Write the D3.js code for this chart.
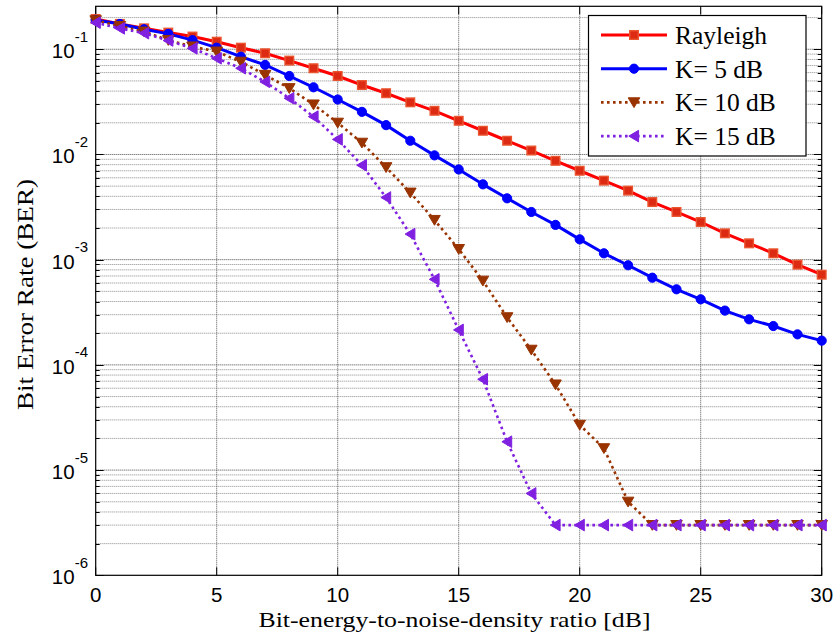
<!DOCTYPE html>
<html>
<head>
<meta charset="utf-8">
<script src="https://cdn.jsdelivr.net/npm/d3@7"></script>
<style>
  html, body { margin: 0; padding: 0; background: #fff; }
  svg { display: block; }
</style>
</head>
<body>
<svg id="chart" width="833" height="643"></svg>
<script>
// Eb/N0 in dB
const snrDb = d3.range(0, 31);

// Simulated bit error rates per channel model
const berRayleigh = [0.194, 0.174, 0.158, 0.144, 0.132, 0.118, 0.1035, 0.0916, 0.078, 0.066,
  0.0557, 0.0457, 0.0382, 0.0313, 0.026, 0.0209, 0.0168, 0.0135, 0.0109, 0.0087,
  0.0070, 0.00564, 0.00453, 0.00353, 0.00284, 0.00228, 0.00178, 0.00143, 0.00115, 0.000896, 0.00072];
const berK5 = [0.19, 0.174, 0.155, 0.14, 0.122, 0.1035, 0.085, 0.071, 0.0557, 0.0435,
  0.0333, 0.0254, 0.019, 0.0135, 0.0098, 0.0072, 0.0052, 0.00383, 0.00284, 0.00214,
  0.00156, 0.00115, 0.000885, 0.000674, 0.000523, 0.00042, 0.000328, 0.000271, 0.000234, 0.000195, 0.00017];
const berK10 = [0.188, 0.166, 0.147, 0.122, 0.106, 0.095, 0.076, 0.057, 0.0426, 0.0298,
  0.020, 0.0129, 0.00755, 0.00433, 0.00238, 0.00126, 0.00063, 0.000283, 0.000139, 0.000065,
  0.0000269, 0.0000161, 0.000005, 0.000003, 0.000003, 0.000003, 0.000003, 0.000003, 0.000003, 0.000003, 0.000003];
const berK15 = [0.179, 0.158, 0.142, 0.121, 0.102, 0.082, 0.066, 0.049, 0.0342, 0.0229,
  0.0139, 0.0079, 0.0039, 0.00175, 0.00065, 0.000215, 0.000073, 0.0000186, 0.000006, 0.000003,
  0.000003, 0.000003, 0.000003, 0.000003, 0.000003, 0.000003, 0.000003, 0.000003, 0.000003, 0.000003, 0.000003];

const seriesNames = ["Rayleigh", "K= 5 dB", "K= 10 dB", "K= 15 dB"];
const xTicks = [0, 5, 10, 15, 20, 25, 30];
const yExponents = [-6, -5, -4, -3, -2, -1];

const xLabel = "Bit-energy-to-noise-density ratio [dB]";
const yLabel = "Bit Error Rate (BER)";

// ---- layout ----
const plot = { left: 95.7, right: 821.7, top: 6.3, bottom: 575.3 };
const x = d3.scaleLinear().domain([0, 30]).range([plot.left, plot.right]);
const y = d3.scaleLog().domain([1e-6, 0.256]).range([plot.bottom, plot.top]);

const svg = d3.select("#chart");

const series = [
  { name: seriesNames[0], values: berRayleigh, color: "#ff0000", width: 3, dash: null,
    marker: "square", mFill: "#dd2a12", mStroke: "#ea5530" },
  { name: seriesNames[1], values: berK5, color: "#0000ff", width: 3, dash: null,
    marker: "circle", mFill: "#0000ff", mStroke: "#0000ff" },
  { name: seriesNames[2], values: berK10, color: "#993300", width: 2.6, dash: "2.6 3.4",
    marker: "down", mFill: "#993300", mStroke: "#993300" },
  { name: seriesNames[3], values: berK15, color: "#8020e0", width: 2.6, dash: "2.6 3.4",
    marker: "left", mFill: "#8020e0", mStroke: "#8020e0" }
];

// ---- grid ----
const grid = svg.append("g");
const minorVals = [];
for (let e = -6; e <= -1; e++) {
  for (let m = 1; m <= 9; m++) {
    const v = m * Math.pow(10, e);
    if (v <= 0.256) minorVals.push({ v, major: m === 1 });
  }
}
grid.selectAll("line.h").data(minorVals.filter(d => d.v > 1e-6)).join("line")
  .attr("x1", plot.left).attr("x2", plot.right)
  .attr("y1", d => y(d.v)).attr("y2", d => y(d.v))
  .attr("stroke", d => d.major ? "#444" : "#8a8a8a")
  .attr("stroke-width", 1)
  .attr("stroke-dasharray", "1 1");
grid.selectAll("line.v").data(xTicks.filter(t => t > 0 && t < 30)).join("line")
  .attr("x1", d => x(d)).attr("x2", d => x(d))
  .attr("y1", plot.top).attr("y2", plot.bottom)
  .attr("stroke", "#555").attr("stroke-width", 1)
  .attr("stroke-dasharray", "1 1");

// ---- ticks (inside, both sides) ----
const ticks = svg.append("g").attr("stroke", "#000").attr("stroke-width", 1);
minorVals.forEach(d => {
  const len = d.major ? 8 : 4;
  const yy = Math.round(y(d.v)) + 0.5;
  ticks.append("line").attr("x1", plot.left).attr("x2", plot.left + len).attr("y1", yy).attr("y2", yy);
  ticks.append("line").attr("x1", plot.right).attr("x2", plot.right - len).attr("y1", yy).attr("y2", yy);
});
xTicks.forEach(t => {
  const xx = x(t);
  ticks.append("line").attr("x1", xx).attr("x2", xx).attr("y1", plot.bottom).attr("y2", plot.bottom - 8);
  ticks.append("line").attr("x1", xx).attr("x2", xx).attr("y1", plot.top).attr("y2", plot.top + 8);
});

// ---- axis box ----
svg.append("rect")
  .attr("x", plot.left).attr("y", plot.top)
  .attr("width", plot.right - plot.left).attr("height", plot.bottom - plot.top)
  .attr("fill", "none").attr("stroke", "#000").attr("stroke-width", 1.2);

// ---- tick labels ----
const tickFont = "'Liberation Sans', Arial, sans-serif";
svg.append("g").selectAll("text").data(xTicks).join("text")
  .attr("x", d => x(d)).attr("y", 602)
  .attr("text-anchor", "middle")
  .attr("font-family", tickFont).attr("font-size", 20.5)
  .text(d => d);

const yl = svg.append("g").selectAll("text").data(yExponents).join("text")
  .attr("x", 88).attr("y", d => y(Math.pow(10, d)) + 9)
  .attr("text-anchor", "end")
  .attr("font-family", tickFont).attr("font-size", 20.5);
yl.append("tspan").text("10");
yl.append("tspan").attr("dy", -16.5).attr("font-size", 15).text(d => d);

// ---- axis titles ----
svg.append("text")
  .attr("x", 258.5).attr("y", 627)
  .attr("font-family", "'Liberation Serif', 'Times New Roman', serif")
  .attr("font-size", 22)
  .attr("textLength", 392).attr("lengthAdjust", "spacingAndGlyphs")
  .text(xLabel);

svg.append("text")
  .attr("transform", "translate(33,410) rotate(-90)")
  .attr("font-family", "'Liberation Serif', 'Times New Roman', serif")
  .attr("font-size", 23.5)
  .attr("textLength", 231).attr("lengthAdjust", "spacingAndGlyphs")
  .text(yLabel);

// ---- markers ----
function drawMarker(g, kind, cx, cy, s) {
  if (kind === "square") {
    g.append("rect").attr("x", cx - 4.3).attr("y", cy - 4.3).attr("width", 8.6).attr("height", 8.6)
      .attr("fill", s.mFill).attr("stroke", s.mStroke).attr("stroke-width", 1.4);
  } else if (kind === "circle") {
    g.append("circle").attr("cx", cx).attr("cy", cy).attr("r", 4.6)
      .attr("fill", s.mFill).attr("stroke", s.mStroke).attr("stroke-width", 1);
  } else if (kind === "down") {
    g.append("path")
      .attr("d", `M${cx - 5.8},${cy - 4.6}L${cx + 5.8},${cy - 4.6}L${cx},${cy + 5.2}Z`)
      .attr("fill", s.mFill).attr("stroke", s.mStroke).attr("stroke-width", 1);
  } else if (kind === "left") {
    g.append("path")
      .attr("d", `M${cx + 4.6},${cy - 5.8}L${cx + 4.6},${cy + 5.8}L${cx - 5.2},${cy}Z`)
      .attr("fill", s.mFill).attr("stroke", s.mStroke).attr("stroke-width", 1);
  }
}

// ---- curves ----
const line = d3.line().x((d, i) => x(snrDb[i])).y(d => y(d));
series.forEach(s => {
  const g = svg.append("g");
  g.append("path").datum(s.values)
    .attr("d", line)
    .attr("fill", "none").attr("stroke", s.color)
    .attr("stroke-width", s.width)
    .attr("stroke-dasharray", s.dash)
    .attr("stroke-linejoin", "round");
  s.values.forEach((v, i) => drawMarker(g, s.marker, x(snrDb[i]), y(v), s));
});

// ---- legend ----
const leg = svg.append("g");
leg.append("rect").attr("x", 588.5).attr("y", 15.5).attr("width", 217.5).attr("height", 140.5)
  .attr("fill", "#fff").attr("stroke", "#000").attr("stroke-width", 1.2);
series.forEach((s, i) => {
  const cy = 35 + i * 33.7;
  const g = leg.append("g");
  g.append("line").attr("x1", 601).attr("x2", 667).attr("y1", cy).attr("y2", cy)
    .attr("stroke", s.color).attr("stroke-width", s.width)
    .attr("stroke-dasharray", s.dash);
  drawMarker(g, s.marker, 634, cy, s);
  g.append("text").attr("x", 675).attr("y", cy + 9)
    .attr("font-family", "'Liberation Serif', 'Times New Roman', serif")
    .attr("font-size", 25.5)
    .text(s.name);
});
</script>
</body>
</html>
